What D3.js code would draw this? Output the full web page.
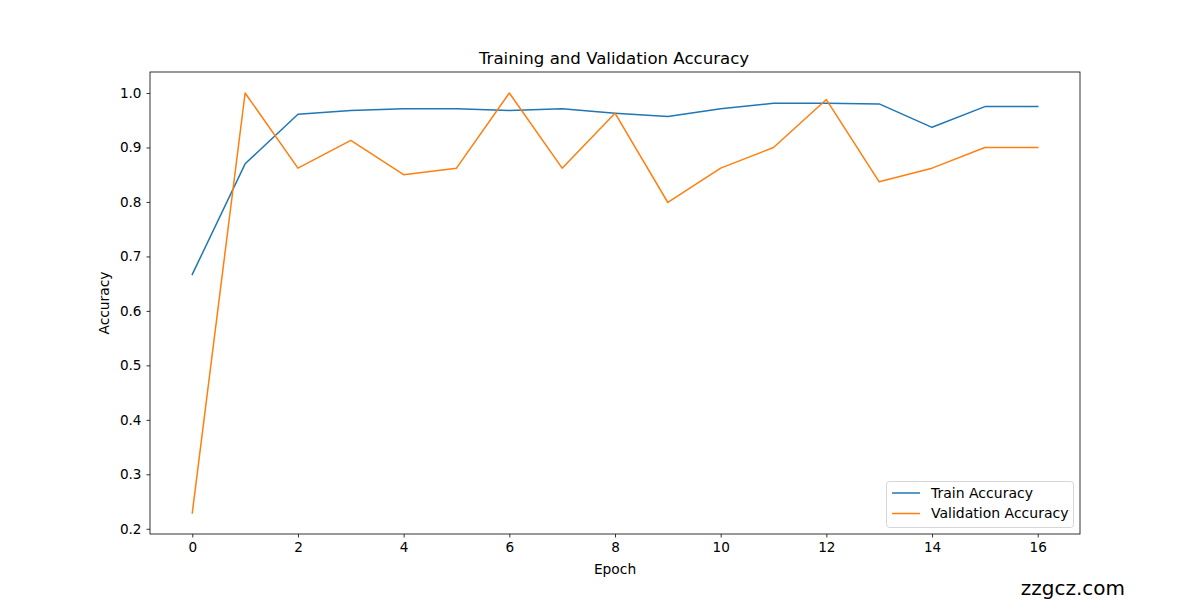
<!DOCTYPE html>
<html><head><meta charset="utf-8">
<script src="https://cdn.jsdelivr.net/npm/d3@7"></script>
<style>body{margin:0;background:#fff}svg{display:block}text{font-family:"DejaVu Sans",sans-serif}</style>
</head><body><svg id="c" width="1200" height="600"></svg>
<script>
const epochs = d3.range(0, 17);
const trainAcc = [0.667,0.870,0.961,0.968,0.971,0.971,0.968,0.971,0.963,0.957,0.971,0.981,0.981,0.980,0.937,0.975,0.975];
const valAcc = [0.229,1.0,0.862,0.913,0.850,0.862,1.0,0.862,0.963,0.799,0.862,0.900,0.988,0.837,0.862,0.900,0.900];
const xTicks = [0,2,4,6,8,10,12,14,16];
const yTicks = [0.2,0.3,0.4,0.5,0.6,0.7,0.8,0.9,1.0];
const seriesNames = ["Train Accuracy","Validation Accuracy"];
const colors = ["#1f77b4","#ff7f0e"];

const L=150,R=1080,T=72,B=534;
const svg=d3.select("#c");
const x=d3.scaleLinear().domain([-0.8,16.8]).range([L,R]);
const lo=Math.min(d3.min(trainAcc),d3.min(valAcc)), hi=Math.max(d3.max(trainAcc),d3.max(valAcc));
const pad=(hi-lo)*0.05;
const y=d3.scaleLinear().domain([lo-pad,hi+pad]).range([B,T]);

const xa=svg.append("g").attr("transform",`translate(0,${B})`).call(d3.axisBottom(x).tickValues(xTicks).tickSize(3.5).tickPadding(5).tickFormat(d3.format("d")));
const ya=svg.append("g").attr("transform",`translate(${L},0)`).call(d3.axisLeft(y).tickValues(yTicks).tickSize(3.5).tickPadding(5).tickFormat(d3.format(".1f")));
[xa,ya].forEach(a=>{a.select(".domain").remove();a.selectAll("text").attr("font-size","13.6px").attr("fill","#000").attr("font-family","DejaVu Sans");a.selectAll("line").attr("stroke","#000").attr("stroke-width",0.8);});

const line=d3.line().x((d,i)=>x(epochs[i])).y(d=>y(d));
[trainAcc,valAcc].forEach((s,k)=>{
  svg.append("path").datum(s).attr("d",line).attr("fill","none").attr("stroke",colors[k]).attr("stroke-width",1.5).attr("stroke-linecap","square").attr("stroke-linejoin","round");
});
svg.append("rect").attr("x",L).attr("y",T).attr("width",R-L).attr("height",B-T).attr("fill","none").attr("stroke","#000").attr("stroke-width",0.8);

svg.append("text").attr("x",(L+R)/2-1).attr("y",T-8).attr("text-anchor","middle").attr("font-size","16.6px").text("Training and Validation Accuracy");
svg.append("text").attr("x",(L+R)/2).attr("y",574).attr("text-anchor","middle").attr("font-size","13.8px").text("Epoch");
svg.append("text").attr("transform",`translate(109,${(T+B)/2}) rotate(-90)`).attr("text-anchor","middle").attr("font-size","13.8px").text("Accuracy");

const lg=svg.append("g");
lg.append("rect").attr("x",886.5).attr("y",481.5).attr("width",187).attr("height",46).attr("rx",3).attr("fill","#fff").attr("fill-opacity",0.8).attr("stroke","#ccc").attr("stroke-width",0.8);
seriesNames.forEach((n,k)=>{
  const yy=493+k*20.5;
  lg.append("line").attr("x1",892).attr("x2",920).attr("y1",yy).attr("y2",yy).attr("stroke",colors[k]).attr("stroke-width",1.5);
  lg.append("text").attr("x",931).attr("y",yy+4.8).attr("font-size","14px").text(n);
});
svg.append("text").attr("x",1125).attr("y",595).attr("text-anchor","end").attr("font-size","20px").attr("font-family","DejaVu Sans").text("zzgcz.com");
</script></body></html>
